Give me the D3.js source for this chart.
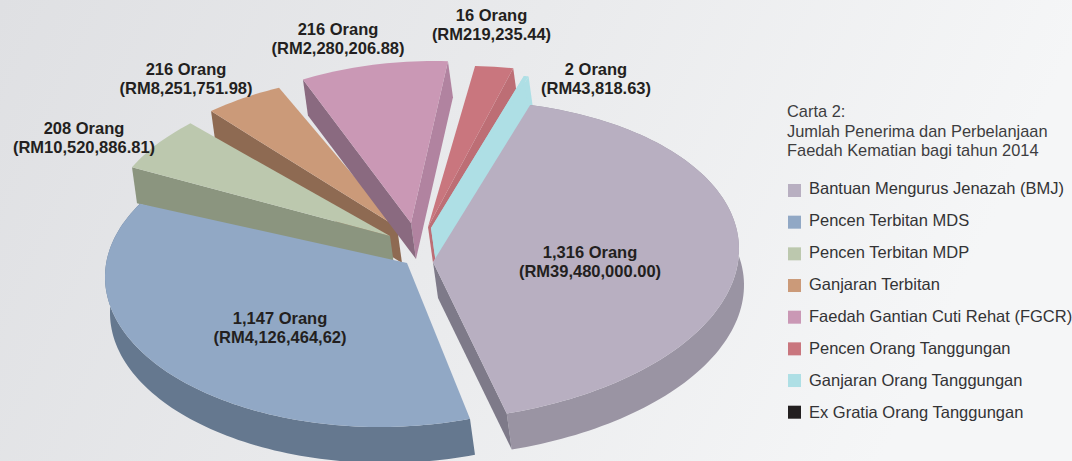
<!DOCTYPE html>
<html><head><meta charset="utf-8">
<script src="https://cdn.jsdelivr.net/npm/d3@7/dist/d3.min.js"></script>
<style>html,body{margin:0;padding:0;background:#fff}svg{display:block}text{font-family:"Liberation Sans",Arial,sans-serif}</style>
</head><body><svg id="c" width="1072" height="461"></svg>
<script>
const categories=["Bantuan Mengurus Jenazah (BMJ)","Pencen Terbitan MDS","Pencen Terbitan MDP","Ganjaran Terbitan","Faedah Gantian Cuti Rehat (FGCR)","Pencen Orang Tanggungan","Ganjaran Orang Tanggungan","Ex Gratia Orang Tanggungan"];
const sliceShares=[148.4,138.3,20.8,16.8,31.4,8,1,0];
const orang=["1,316 Orang","1,147 Orang","208 Orang","216 Orang","216 Orang","16 Orang","2 Orang"];
const amaun=["(RM39,480,000.00)","(RM4,126,464,62)","(RM10,520,886.81)","(RM8,251,751.98)","(RM2,280,206.88)","(RM219,235.44)","(RM43,818.63)"];
const legendTitle=["Carta 2:","Jumlah Penerima dan Perbelanjaan","Faedah Kematian bagi tahun 2014"];

// styling and layout
const topColors=["#b8afc1","#91a8c5","#bcc8ae","#cb9a79","#ca98b5","#c9767e","#aedfe5","#231f20"];
const rimColors=["#9a94a3","#65788f",null,null,null,null,null];
const startFace=[null,null,"#8b957f","#8e6a52","#8a6a80",null,"#aedfe5"];
const endFace=["#7e7a89",null,null,null,"#b183a0","#bd6e75","#aedfe5"];
const apex=[[433,262],[407,263],[390,236],[397,227],[411,223],[428,227],[431,228]];
const ellipseC=[[436,260.6],[380,277],[380,232],[390,225],[435,211],[465,216],[470,223]];
const ellipseR=[[303,160],[275,150],[275,150],[275,150],[275,150],[275,150],[275,150]];
const shear=[-0.038,0,0,0,0,0,0];
const nudgeDeg=[0,-5.6,-9.2,-6.2,-11.1,-11.7,-10.5];
const extrude=[5,36];
const labelX=[590,280,84,186,338,491.5,596];
const labelY=[258,324,134,75,35,21,74.5];
const drawOrder=[3,2,1,4,5,6,0];

const svg=d3.select("#c");
const g=svg.append("defs").append("linearGradient").attr("id","bg").attr("gradientUnits","userSpaceOnUse")
 .attr("x1",0).attr("y1",0).attr("x2",900).attr("y2",420);
g.append("stop").attr("offset",0).attr("stop-color","#dfe0e3");
g.append("stop").attr("offset",.5).attr("stop-color","#e9eaec");
g.append("stop").attr("offset",1).attr("stop-color","#f5f6f7");
svg.append("rect").attr("width",1072).attr("height",461).attr("fill","url(#bg)");

const pieStart=18.1;
const slices=d3.pie().sort(null)(sliceShares);
const sweep=d3.scaleLinear().domain([0,2*Math.PI]).range([0,d3.sum(sliceShares)]);
const deg=d=>d*Math.PI/180;
const line=d3.line();
const polygon=p=>line(p)+"Z";
const shift=p=>[p[0]+extrude[0],p[1]+extrude[1]];
function rimPoint(i,a){
 const x=ellipseC[i][0]+ellipseR[i][0]*Math.sin(a);
 const y=ellipseC[i][1]-ellipseR[i][1]*Math.cos(a)+shear[i]*(x-ellipseC[i][0]);
 return [x,y];
}
drawOrder.forEach(i=>{
 const s=slices[i];
 const a0=deg(pieStart+sweep(s.startAngle)+nudgeDeg[i]),a1=deg(pieStart+sweep(s.endAngle)+nudgeDeg[i]);
 const n=Math.max(6,Math.ceil((a1-a0)*40));
 const rim=d3.range(n+1).map(j=>rimPoint(i,a0+(a1-a0)*j/n));
 const G=svg.append("g");
 if(rimColors[i]) G.append("path").attr("d",polygon(rim.concat(rim.map(shift).reverse()))).attr("fill",rimColors[i]);
 const P=apex[i];
 if(endFace[i]){const e=rim[n];G.append("path").attr("d",polygon([P,e,shift(e),shift(P)])).attr("fill",endFace[i]);}
 if(startFace[i]){const e=rim[0];G.append("path").attr("d",polygon([P,e,shift(e),shift(P)])).attr("fill",startFace[i]);}
 G.append("path").attr("d",polygon([P].concat(rim))).attr("fill",topColors[i]);
});
orang.forEach((t,i)=>{
 svg.append("text").attr("x",labelX[i]).attr("y",labelY[i]).attr("text-anchor","middle").attr("font-size",16.5).attr("font-weight","bold").attr("fill","#231f20").text(t);
 svg.append("text").attr("x",labelX[i]).attr("y",labelY[i]+19).attr("text-anchor","middle").attr("font-size",16.5).attr("font-weight","bold").attr("fill","#231f20").text(amaun[i]);
});
legendTitle.forEach((t,i)=>svg.append("text").attr("x",787).attr("y",117+i*19.5).attr("font-size",16.4).attr("fill","#3d3d3f").text(t));
const ly=d3.scalePoint().domain(categories).range([184,405.7]);
const lt=d3.scalePoint().domain(categories).range([193.5,417.5]);
categories.forEach((c,i)=>{
 svg.append("rect").attr("x",788).attr("y",ly(c)).attr("width",13).attr("height",13).attr("fill",topColors[i]);
 svg.append("text").attr("x",809).attr("y",lt(c)).attr("font-size",16.5).attr("fill","#333335").text(c);
});
</script></body></html>
